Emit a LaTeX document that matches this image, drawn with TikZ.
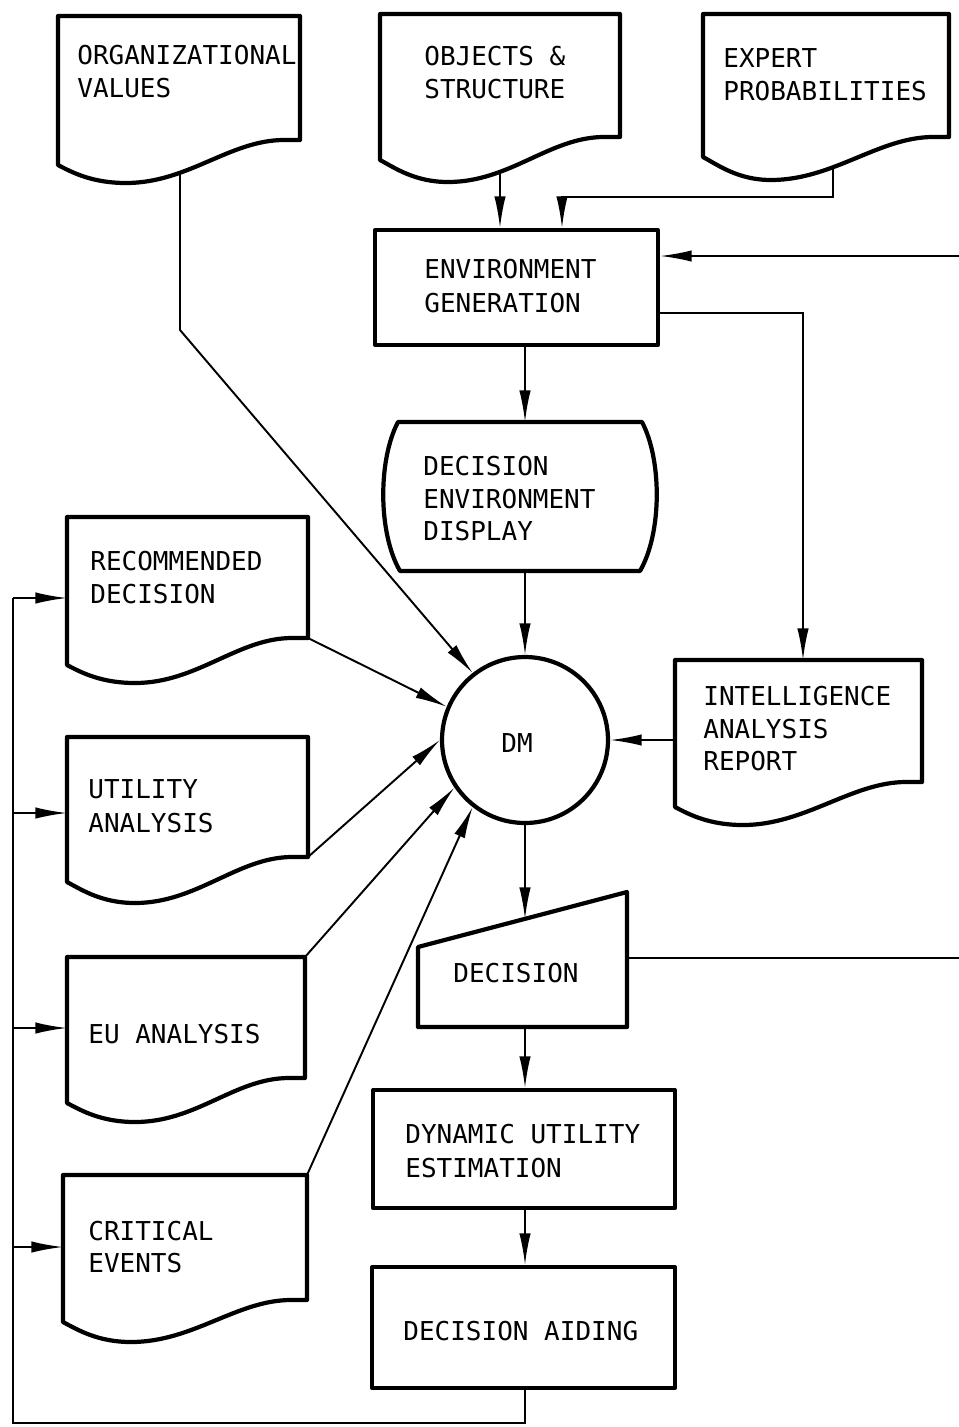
\documentclass[tikz,border=0pt]{standalone}
\usepackage{fontspec}
\newfontfamily\labfont{DejaVu Sans Mono}
\usetikzlibrary{arrows.meta,backgrounds}
\newcommand{\docshape}[6]{\draw[shp] (#1,#2) -- (#3,#2) -- (#3,#4) -- (#3-16,#4) .. controls (#3-70,#4) and (#1+130,#6) .. (#1+68,#6) .. controls (#1+35,#6) and (#1+15,#5+8) .. (#1,#5) -- cycle;}
\begin{document}
\begin{tikzpicture}[x=0.02cm,y=-0.02cm,
 shp/.style={line width=2.4pt,line join=round,fill=white},
 box/.style={shp,draw,rectangle,inner sep=0pt},
 lbl/.style={anchor=base west,inner sep=0pt,font={\labfont\fontsize{14.8pt}{18pt}\selectfont}},
 wire/.style={line width=1.1pt},
 conn/.style={wire,-{Latex[length=18pt,width=6.5pt]}},
]
\useasboundingbox (0,0) rectangle (958,1427);

% document shapes
\docshape{58}{16}{300}{140}{165}{183}
\docshape{380}{14}{620}{137}{160}{182}
\docshape{703}{14}{949}{137}{157}{180}
\docshape{67}{517}{308}{638}{665}{683}
\docshape{67}{737}{308}{857}{882}{903}
\docshape{67}{957}{305}{1078}{1103}{1122}
\docshape{63}{1175}{307}{1300}{1322}{1342}
\docshape{675}{660}{922}{782}{807}{825}

% display shape
\draw[shp] (398,422) -- (642,422) .. controls (662,460) and (662,533) .. (640,571) -- (400,571) .. controls (378,533) and (378,460) .. (398,422) -- cycle;
% manual input (decision)
\draw[shp] (418,947) -- (627,892) -- (627,1027) -- (418,1027) -- cycle;

% box nodes
\node[box,minimum width=5.66cm,minimum height=2.3cm] (eg) at (516.5,287.5) {};
\node[box,minimum width=6.04cm,minimum height=2.36cm] (due) at (524,1149) {};
\node[box,minimum width=6.06cm,minimum height=2.42cm] (da) at (523.5,1327.5) {};
\node[shp,draw,circle,minimum size=3.32cm,inner sep=0pt] (dm) at (525,740) {};

% texts
\node[lbl] (t1) at (77,64) {ORGANIZATIONAL};
\node[lbl] (t2) at (77,97) {VALUES};
\node[lbl] (t3) at (424,65) {OBJECTS \&};
\node[lbl] (t4) at (424,98) {STRUCTURE};
\node[lbl] (t5) at (723,67) {EXPERT};
\node[lbl] (t6) at (723,100) {PROBABILITIES};
\node[lbl] (t7) at (424,278) {ENVIRONMENT};
\node[lbl] (t8) at (424,312) {GENERATION};
\node[lbl] (t9) at (423,475) {DECISION};
\node[lbl] (t10) at (423,508) {ENVIRONMENT};
\node[lbl] (t11) at (423,540) {DISPLAY};
\node[lbl] (t12) at (90,570) {RECOMMENDED};
\node[lbl] (t13) at (90,603) {DECISION};
\node[lbl] (t14) at (88,798) {UTILITY};
\node[lbl] (t15) at (88,832) {ANALYSIS};
\node[lbl] (t16) at (88,1043) {EU ANALYSIS};
\node[lbl] (t17) at (88,1240) {CRITICAL};
\node[lbl] (t18) at (88,1272) {EVENTS};
\node[lbl] (t19) at (703,705) {INTELLIGENCE};
\node[lbl] (t20) at (703,738) {ANALYSIS};
\node[lbl] (t21) at (703,770) {REPORT};
\node[lbl] (t22) at (453,982) {DECISION};
\node[lbl] (t23) at (405,1143) {DYNAMIC UTILITY};
\node[lbl] (t24) at (405,1177) {ESTIMATION};
\node[lbl] (t25) at (403,1340) {DECISION AIDING};
\node[lbl,anchor=center] (t26) at (517,743) {DM};

% connection points
\coordinate (orgout) at (180,150);
\coordinate (orgbend) at (180,330);
\coordinate (objout) at (500,150);
\coordinate (expout) at (833,150);
\coordinate (expbend) at (833,197);
\coordinate (expbend2) at (562,197);
\coordinate (egout) at (658,313);
\coordinate (dedtop) at (525,422);
\coordinate (dedbot) at (525,571);
\coordinate (iarin) at (803,660);
\coordinate (iarout) at (675,740);
\coordinate (rdout) at (308,638);
\coordinate (uaout) at (308,857);
\coordinate (euout) at (305,957);
\coordinate (ceout) at (307,1175);
\coordinate (decin) at (525,919);
\coordinate (decbot) at (525,1027);
\coordinate (decout) at (627,958);
\coordinate (offr1) at (965,958);
\coordinate (offr2) at (965,256);
\coordinate (fbb) at (525,1423);
\coordinate (fbl) at (13,1423);
\coordinate (fbt) at (13,598);
\coordinate (rdin) at (67,598);
\coordinate (uain) at (67,813);
\coordinate (euin) at (67,1028);
\coordinate (cein) at (63,1247);

\begin{scope}[on background layer]
\draw[conn] (orgout) -- (orgbend) -- (dm.128);
\draw[conn] (objout) -- (objout |- eg.north);
\draw[conn] (expout) -- (expbend) -- (expbend2) -- (expbend2 |- eg.north);
\draw[conn] (decout) -- (offr1) -- (offr2) -- (offr2 -| eg.east);
\draw[conn] (eg.south -| dedtop) -- (dedtop);
\draw[conn] (egout) -- (egout -| iarin) -- (iarin);
\draw[conn] (dedbot) -- (dm.north);
\draw[conn] (iarout) -- (dm.east);
\draw[conn] (rdout) -- (dm.157);
\draw[conn] (uaout) -- (dm.180);
\draw[conn] (euout) -- (dm.214);
\draw[conn] (ceout) -- (dm.232);
\draw[conn] (dm.south) -- (decin);
\draw[conn] (decbot) -- (decbot |- due.north);
\draw[conn] (due.south -| decbot) -- (decbot |- da.north);
\draw[wire] (da.south -| decbot) -- (fbb) -- (fbl) -- (fbt);
\draw[conn] (fbt) -- (rdin);
\draw[conn] (fbl |- uain) -- (uain);
\draw[conn] (fbl |- euin) -- (euin);
\draw[conn] (fbl |- cein) -- (cein);
\end{scope}
\end{tikzpicture}
\end{document}
